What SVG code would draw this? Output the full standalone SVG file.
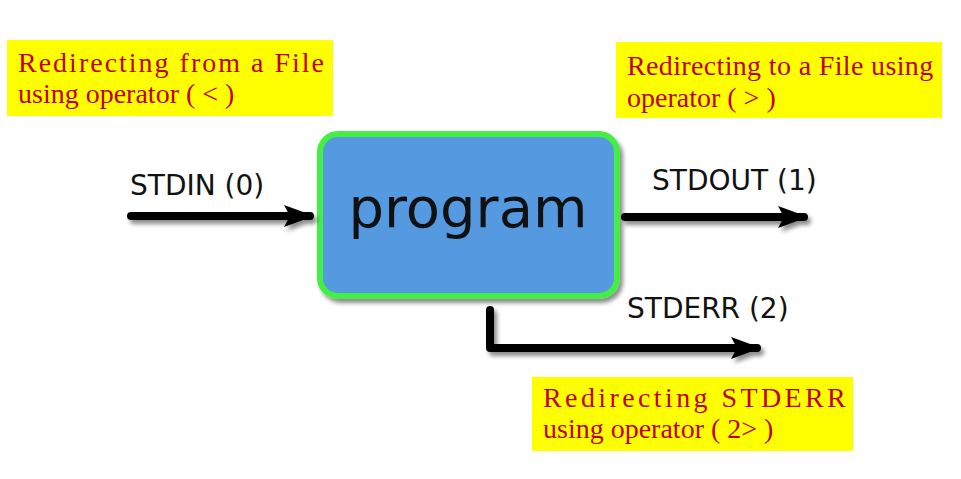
<svg xmlns="http://www.w3.org/2000/svg" width="961" height="479" viewBox="0 0 961 479">
<style>
.note{fill:#ffff00}
.nt{font-family:"Liberation Serif","Times New Roman",serif;font-size:28px;fill:#c00000}
.lbl{font-family:"DejaVu Sans",sans-serif;font-size:28px;fill:#111}
.wire{fill:none;stroke:#000;stroke-width:8;stroke-linecap:round;stroke-linejoin:round}
</style>
<defs>
<filter id="sh" filterUnits="userSpaceOnUse" x="0" y="0" width="961" height="479">
<feDropShadow dx="3" dy="4" stdDeviation="2" flood-color="#000" flood-opacity="0.45"/>
</filter>
<marker id="ah" viewBox="0 0 30 24" refX="26" refY="12" markerWidth="30" markerHeight="24" markerUnits="userSpaceOnUse" orient="auto">
<path d="M0,1 L30,12 L0,23 L6,12 Z" fill="#000"/>
</marker>
</defs>
<rect width="961" height="479" fill="#fff"/>
<g id="note-stdin">
<rect class="note" x="7" y="40" width="326" height="76"/>
<text class="nt" x="18" y="72" letter-spacing="2">Redirecting from a File</text>
<text class="nt" x="18" y="103">using operator ( &lt; )</text>
</g>
<g id="note-stdout">
<rect class="note" x="616" y="42" width="326" height="76"/>
<text class="nt" x="627" y="75" letter-spacing="0.35">Redirecting to a File using</text>
<text class="nt" x="627" y="107">operator ( &gt; )</text>
</g>
<g id="note-stderr">
<rect class="note" x="532" y="377" width="321" height="74"/>
<text class="nt" x="543" y="407" letter-spacing="3.4">Redirecting STDERR</text>
<text class="nt" x="543" y="438">using operator ( 2&gt; )</text>
</g>
<g id="program">
<rect x="320" y="134" width="297" height="162" rx="18" fill="#5599e0" stroke="#44ee44" stroke-width="6" filter="url(#sh)"/>
<text x="468" y="227" text-anchor="middle" font-family="'DejaVu Sans',sans-serif" font-size="56" fill="#111">program</text>
</g>
<g id="connectors" filter="url(#sh)">
<path class="wire" d="M131,216 L310,216" marker-end="url(#ah)"/>
<path class="wire" d="M625,217 L804,217" marker-end="url(#ah)"/>
<path class="wire" d="M490,310 L490,348 L757,348" marker-end="url(#ah)"/>
</g>
<g id="labels">
<text class="lbl" x="130" y="195">STDIN (0)</text>
<text class="lbl" x="652" y="190">STDOUT (1)</text>
<text class="lbl" x="627" y="318">STDERR (2)</text>
</g>
</svg>
